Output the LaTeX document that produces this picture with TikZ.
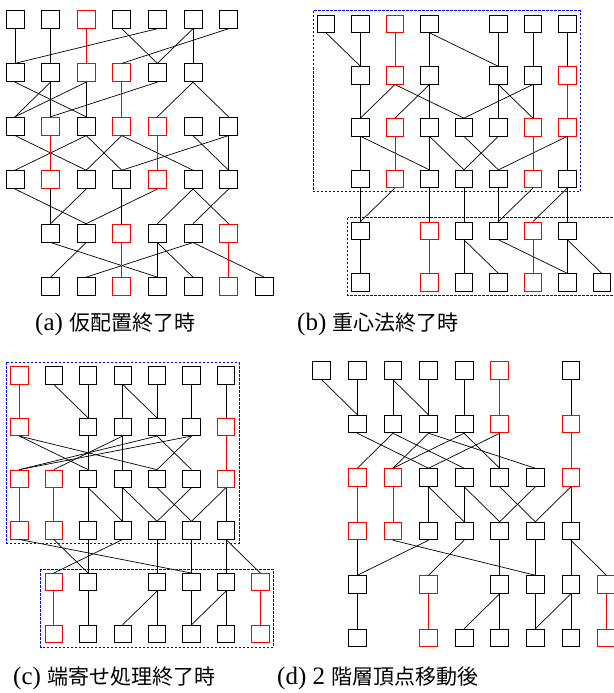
\documentclass[tikz,border=0pt]{standalone}
\usepackage{fontspec}
\setmainfont{Liberation Serif}
\newfontfamily\jpfont{Noto Sans CJK JP}
\begin{document}
\begin{tikzpicture}[x=1pt,y=-1pt,
  boxk/.style={rectangle,draw=black,inner sep=0pt,line width=0.8pt},
  boxr/.style={rectangle,draw=red,inner sep=0pt,line width=0.8pt},
  ek/.style={draw=black,line width=0.7pt},
  er/.style={draw=red,line width=0.7pt},
  grp/.style={draw=blue,line width=1pt,dash pattern=on 2.5pt off 1.5pt},
  captxt/.style={anchor=base west,inner sep=0pt,font=\fontsize{25}{28}\selectfont}]
\useasboundingbox (0,0) rectangle (613,693);
% ---------------- (a)
\foreach \r/\c/\k in {1/0/k,1/1/k,1/2/r,1/3/k,1/4/k,1/5/k,1/6/k,
  2/0/k,2/1/k,2/2/r,2/3/r,2/4/k,2/5/k,
  3/0/k,3/1/r,3/2/k,3/3/r,3/4/r,3/5/k,3/6/k,
  4/0/k,4/1/r,4/2/k,4/3/k,4/4/r,4/5/k,4/6/k,
  5/1/k,5/2/k,5/3/r,5/4/k,5/5/k,5/6/r,
  6/1/k,6/2/k,6/3/r,6/4/k,6/5/k,6/6/r,6/7/k}
  \node[box\k,minimum size=18pt] (a\r\c) at ({15+35.6*\c},{19.3+53.45*(\r-1)}) {};
\foreach \u/\v in {10/20,11/21,13/24,14/20,15/24,15/25,16/23,
  20/32,21/30,21/31,22/30,22/32,24/31,25/34,25/36,
  30/42,32/40,32/43,33/42,33/45,35/46,36/43,36/46,
  40/52,41/51,42/51,43/53,44/52,45/54,45/56,46/55,
  51/64,52/61,54/64,54/65,55/62,55/67}
  \draw[ek] (a\u.south) -- (a\v.north);
\foreach \u/\v in {12/22,23/33,31/41,34/44,53/63,56/66}
  \draw[er] (a\u.south) -- (a\v.north);
% ---------------- (b)
\foreach \r/\c/\k in {1/0/k,1/1/k,1/2/r,1/3/k,1/5/k,1/6/k,1/7/k,
  2/1/k,2/2/r,2/3/k,2/5/k,2/6/k,2/7/r,
  3/1/k,3/2/r,3/3/k,3/4/k,3/5/k,3/6/r,3/7/r,
  4/1/k,4/2/r,4/3/k,4/4/k,4/5/k,4/6/r,4/7/k,
  5/1/k,5/3/r,5/4/k,5/5/k,5/6/r,5/7/k,
  6/1/k,6/3/r,6/4/k,6/5/k,6/6/r,6/7/k,6/8/k}
  \node[box\k,minimum size=17.4pt] (b\r\c) at ({326+34.48*\c},{23.7+51.75*(\r-1)}) {};
\foreach \u/\v in {10/21,11/21,13/23,13/25,15/25,16/26,17/27,
  21/31,22/31,22/34,23/32,23/33,25/35,25/36,26/34,26/36,
  31/41,31/43,33/43,33/44,34/45,35/44,37/45,37/47,
  41/51,42/51,43/53,44/54,45/55,46/55,47/56,47/57,
  51/61,54/64,54/65,55/67,57/67,57/68}
  \draw[ek] (b\u.south) -- (b\v.north);
\foreach \u/\v in {12/22,27/37,32/42,36/46,53/63,56/66}
  \draw[er] (b\u.south) -- (b\v.north);
\draw[grp] (313.3,11) rectangle (580.3,191.7);
\draw[grp] (347.7,217.7) rectangle (625,295);
% ---------------- (c)
\foreach \r/\c/\k in {1/0/r,1/1/k,1/2/k,1/3/k,1/4/k,1/5/k,1/6/k,
  2/0/r,2/2/k,2/3/k,2/4/k,2/5/k,2/6/r,
  3/0/r,3/1/r,3/2/k,3/3/k,3/4/k,3/5/k,3/6/r,
  4/0/r,4/1/r,4/2/k,4/3/k,4/4/k,4/5/k,4/6/k,
  5/1/r,5/2/k,5/4/k,5/5/k,5/6/k,5/7/r,
  6/1/r,6/2/k,6/3/k,6/4/k,6/5/k,6/6/k,6/7/r}
  \node[box\k,minimum size=17.3pt] (c\r\c) at ({19.3+34.44*\c},{375.3+51.7*(\r-1)}) {};
\foreach \u/\v in {11/22,12/22,13/23,13/24,14/24,15/25,16/26,
  20/32,20/34,22/32,23/31,23/33,24/30,24/35,25/30,25/34,
  32/42,32/43,33/43,33/44,34/45,35/44,36/45,36/46,
  40/55,41/52,42/52,43/51,44/54,45/55,46/56,46/57,
  52/62,54/63,54/64,55/65,56/65,56/66}
  \draw[ek] (c\u.south) -- (c\v.north);
\foreach \u/\v in {10/20,26/36,30/40,31/41,51/61,57/67}
  \draw[er] (c\u.south) -- (c\v.north);
\draw[grp] (6.7,362.3) rectangle (239,543.3);
\draw[grp] (40.7,569.3) rectangle (273.3,647.3);
% ---------------- (d)
\foreach \r/\c/\k in {1/0/k,1/1/k,1/2/k,1/3/k,1/4/k,1/5/r,1/7/k,
  2/1/k,2/2/k,2/3/k,2/4/k,2/5/r,2/7/r,
  3/1/r,3/2/r,3/3/k,3/4/k,3/5/k,3/6/k,3/7/r,
  4/1/r,4/2/r,4/3/k,4/4/k,4/5/k,4/6/k,4/7/k,
  5/1/k,5/3/r,5/5/k,5/6/k,5/7/k,5/8/r,
  6/1/k,6/3/r,6/4/k,6/5/k,6/6/k,6/7/k,6/8/r}
  \node[box\k,minimum size=17.7pt] (d\r\c) at ({321.7+35.6*\c},{370.5+53.5*(\r-1)}) {};
\foreach \u/\v in {10/21,11/21,12/22,12/23,13/23,14/24,17/27,
  21/33,22/31,22/34,23/32,23/36,24/32,24/35,25/33,25/35,
  33/43,33/44,34/44,34/45,35/46,36/45,37/46,37/47,
  41/51,42/56,43/51,44/53,45/55,46/56,47/57,47/58,
  51/61,55/64,55/65,56/66,57/66,57/67}
  \draw[ek] (d\u.south) -- (d\v.north);
\foreach \u/\v in {15/25,27/37,31/41,32/42,53/63,58/68}
  \draw[er] (d\u.south) -- (d\v.north);
% ---------------- captions
\node[captxt] (capa) at (35,330) {(a) {\jpfont\fontsize{21}{24}\selectfont 仮配置終了時}};
\node[captxt] (capb) at (297,330) {(b) {\jpfont\fontsize{21}{24}\selectfont 重心法終了時}};
\node[captxt] (capc) at (13,684) {(c) {\jpfont\fontsize{21}{24}\selectfont 端寄せ処理終了時}};
\node[captxt] (capd) at (277,684) {(d) 2 {\jpfont\fontsize{21}{24}\selectfont 階層頂点移動後}};
\end{tikzpicture}
\end{document}
